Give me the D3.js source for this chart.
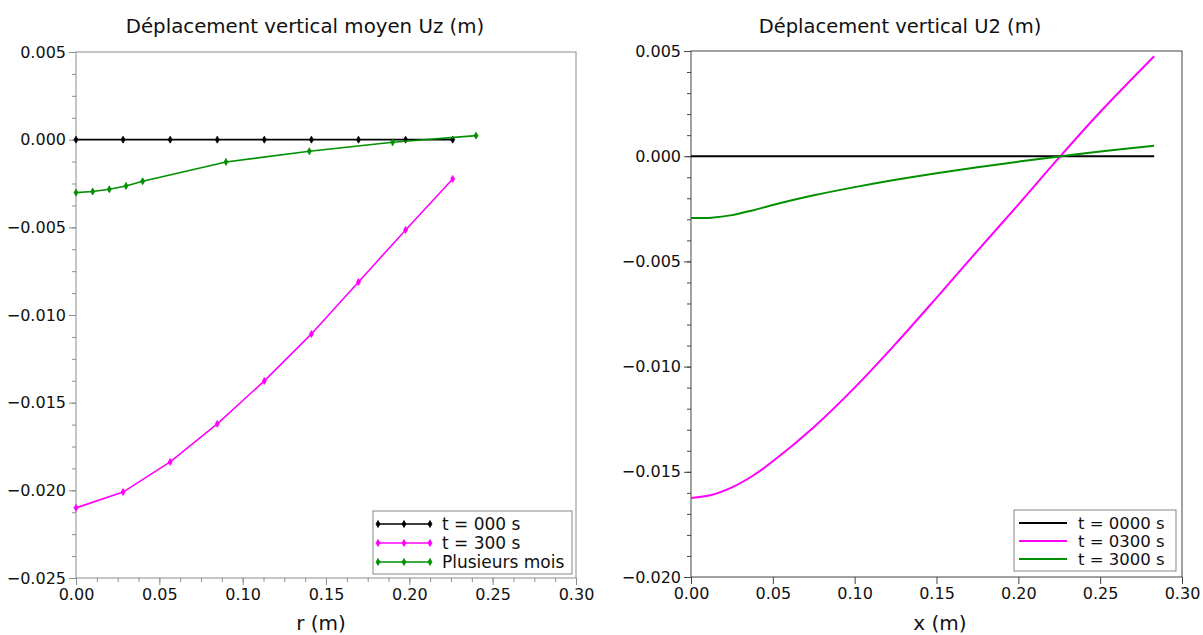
<!DOCTYPE html>
<html><head><meta charset="utf-8">
<script src="https://cdn.jsdelivr.net/npm/d3@7"></script>
<style>
body{margin:0;background:#fff;}
svg{font-family:"DejaVu Sans",sans-serif;}
</style></head>
<body><svg id="c" width="1203" height="635"></svg>
<script>
// ---- Left chart data ----
const leftTitle = "Déplacement vertical moyen Uz (m)";
const leftXLabel = "r (m)";
const leftR0 = [0, 0.02825, 0.0565, 0.08475, 0.113, 0.14125, 0.1695, 0.19775, 0.226];
const leftT000 = [0, 0, 0, 0, 0, 0, 0, 0, 0];
const leftT300 = [-0.0210, -0.0201, -0.01838, -0.01621, -0.01376, -0.01108, -0.00812, -0.00515, -0.00224];
const leftRMois = [0, 0.010, 0.020, 0.030, 0.040, 0.090, 0.140, 0.190, 0.240];
const leftMois = [-0.00302, -0.00296, -0.00283, -0.00264, -0.00237, -0.00127, -0.00066, -0.00015, 0.00023];
const leftLegend = ["t = 000 s", "t = 300 s", "Plusieurs mois"];
const leftXTicks = [0, 0.05, 0.10, 0.15, 0.20, 0.25, 0.30];
const leftYTicks = [-0.025, -0.020, -0.015, -0.010, -0.005, 0.000, 0.005];

// ---- Right chart data ----
const rightTitle = "Déplacement vertical U2 (m)";
const rightXLabel = "x (m)";
const rightX = [0, 0.0125, 0.025, 0.0375, 0.05, 0.075, 0.10, 0.125, 0.15, 0.175, 0.20, 0.225, 0.25, 0.283];
const rightT0000 = [0, 0, 0, 0, 0, 0, 0, 0, 0, 0, 0, 0, 0, 0];
const rightT0300 = [-0.01624, -0.01610, -0.01574, -0.01520, -0.01450, -0.01288, -0.01100, -0.00892, -0.00673, -0.00450, -0.00230, -0.00006, 0.00210, 0.00475];
const rightT3000 = [-0.00294, -0.00292, -0.00280, -0.00258, -0.00232, -0.00186, -0.00147, -0.00112, -0.00081, -0.00052, -0.00026, -0.00001, 0.00022, 0.00050];
const rightLegend = ["t = 0000 s", "t = 0300 s", "t = 3000 s"];
const rightXTicks = [0, 0.05, 0.10, 0.15, 0.20, 0.25, 0.30];
const rightYTicks = [-0.020, -0.015, -0.010, -0.005, 0.000, 0.005];

const colors = ["#000000", "#ff00ff", "#009000"];
const svg = d3.select("#c");
const fmt3 = d3.format(".3f"), fmt2 = d3.format(".2f");

function drawPanel(o) {
  const x = d3.scaleLinear().domain(o.xDomain).range([o.x0, o.x1]);
  const y = d3.scaleLinear().domain(o.yDomain).range([o.y1, o.y0]);
  const g = svg.append("g");
  if (o.xMinor) {
    g.append("g").attr("transform", `translate(0,${o.y1})`)
      .call(d3.axisBottom(x).tickValues(o.xMinor).tickSize(4).tickFormat("").tickSizeOuter(0))
      .call(s => { s.select(".domain").remove(); s.selectAll("line").attr("stroke", o.axisColor); });
  }
  if (o.yMinor) {
    g.append("g").attr("transform", `translate(${o.x0},0)`)
      .call(d3.axisLeft(y).tickValues(o.yMinor).tickSize(4).tickFormat("").tickSizeOuter(0))
      .call(s => { s.select(".domain").remove(); s.selectAll("line").attr("stroke", o.axisColor); });
  }
  const xa = g.append("g").attr("transform", `translate(0,${o.y1})`)
    .call(d3.axisBottom(x).tickValues(o.xTicks).tickFormat(fmt2).tickSize(7).tickPadding(4).tickSizeOuter(0));
  const ya = g.append("g").attr("transform", `translate(${o.x0},0)`)
    .call(d3.axisLeft(y).tickValues(o.yTicks).tickFormat(fmt3).tickSize(7).tickPadding(o.yPad).tickSizeOuter(0));
  [xa, ya].forEach(a => {
    a.select(".domain").remove();
    a.selectAll("line").attr("stroke", o.axisColor);
    a.selectAll("text").attr("font-size", 16).attr("fill", "#111").attr("font-family", "DejaVu Sans");
  });
  g.append("rect").attr("x", o.x0).attr("y", o.y0).attr("width", o.x1 - o.x0).attr("height", o.y1 - o.y0)
    .attr("fill", "none").attr("stroke", o.axisColor).attr("stroke-width", 1);
  const line = d3.line().x(d => x(d[0])).y(d => y(d[1])).curve(o.curve);
  o.series.forEach((s, i) => {
    const pts = s.xs.map((v, k) => [v, s.ys[k]]);
    g.append("path").datum(pts).attr("d", line).attr("fill", "none")
      .attr("stroke", colors[i]).attr("stroke-width", o.lw);
    if (o.markers) {
      g.selectAll(null).data(pts).enter().append("path")
        .attr("d", d3.symbol().type(d3.symbolDiamond).size(14))
        .attr("transform", d => `translate(${x(d[0])},${y(d[1])})`)
        .attr("fill", colors[i]).attr("stroke", colors[i]).attr("stroke-width", 0.8);
    }
  });
  svg.append("text").attr("x", o.titleX).attr("y", 33).attr("text-anchor", "middle")
    .attr("font-size", o.titleSize).attr("fill", "#111").text(o.title);
  svg.append("text").attr("x", o.labelX).attr("y", 630).attr("text-anchor", "middle")
    .attr("font-size", 20).attr("fill", "#111").text(o.xLabel);
  const L = o.legend;
  const lg = svg.append("g");
  lg.append("rect").attr("x", L.x).attr("y", L.y).attr("width", L.w).attr("height", L.h)
    .attr("fill", "#fff").attr("stroke", "#888").attr("stroke-width", 1);
  o.legendLabels.forEach((t, i) => {
    const yy = L.y + L.first + i * L.step;
    lg.append("line").attr("x1", L.x + 5).attr("x2", L.x + 5 + L.len).attr("y1", yy).attr("y2", yy)
      .attr("stroke", colors[i]).attr("stroke-width", o.lw);
    if (o.markers) {
      [0, 0.5, 1].forEach(f => {
        lg.append("path").attr("d", d3.symbol().type(d3.symbolDiamond).size(14))
          .attr("transform", `translate(${L.x + 5 + f * L.len},${yy})`)
          .attr("fill", colors[i]).attr("stroke", colors[i]).attr("stroke-width", 0.8);
      });
    }
    lg.append("text").attr("x", L.tx).attr("y", yy + 6).attr("font-size", L.fs).attr("fill", "#111").text(t);
  });
}

drawPanel({
  x0: 76, x1: 576, y0: 52, y1: 578,
  xDomain: [0, 0.30], yDomain: [-0.025, 0.005],
  xTicks: leftXTicks, yTicks: leftYTicks,
  xMinor: d3.range(0, 0.3001, 0.0125), yMinor: d3.range(-0.025, 0.00501, 0.00125),
  axisColor: "#8c8c8c", yPad: 3, lw: 1.6, markers: true, curve: d3.curveLinear,
  title: leftTitle, xLabel: leftXLabel, titleX: 305, titleSize: 19.8, labelX: 321,
  series: [
    {xs: leftR0, ys: leftT000},
    {xs: leftR0, ys: leftT300},
    {xs: leftRMois, ys: leftMois}
  ],
  legendLabels: leftLegend,
  legend: {x: 373, y: 511, w: 199, h: 63, first: 13, step: 19, len: 52, tx: 442, fs: 17}
});

drawPanel({
  x0: 691, x1: 1182, y0: 51, y1: 577,
  xDomain: [0, 0.30], yDomain: [-0.020, 0.005],
  xTicks: rightXTicks, yTicks: rightYTicks,
  xMinor: null, yMinor: d3.range(-0.020, 0.00501, 0.001),
  axisColor: "#444", yPad: 3, lw: 2, markers: false, curve: d3.curveCatmullRom.alpha(0.5),
  title: rightTitle, xLabel: rightXLabel, titleX: 900, titleSize: 19.5, labelX: 940,
  series: [
    {xs: rightX, ys: rightT0000},
    {xs: rightX, ys: rightT0300},
    {xs: rightX, ys: rightT3000}
  ],
  legendLabels: rightLegend,
  legend: {x: 1014, y: 510, w: 162, h: 61, first: 13, step: 18, len: 48, tx: 1078, fs: 16.5}
});
</script></body></html>
